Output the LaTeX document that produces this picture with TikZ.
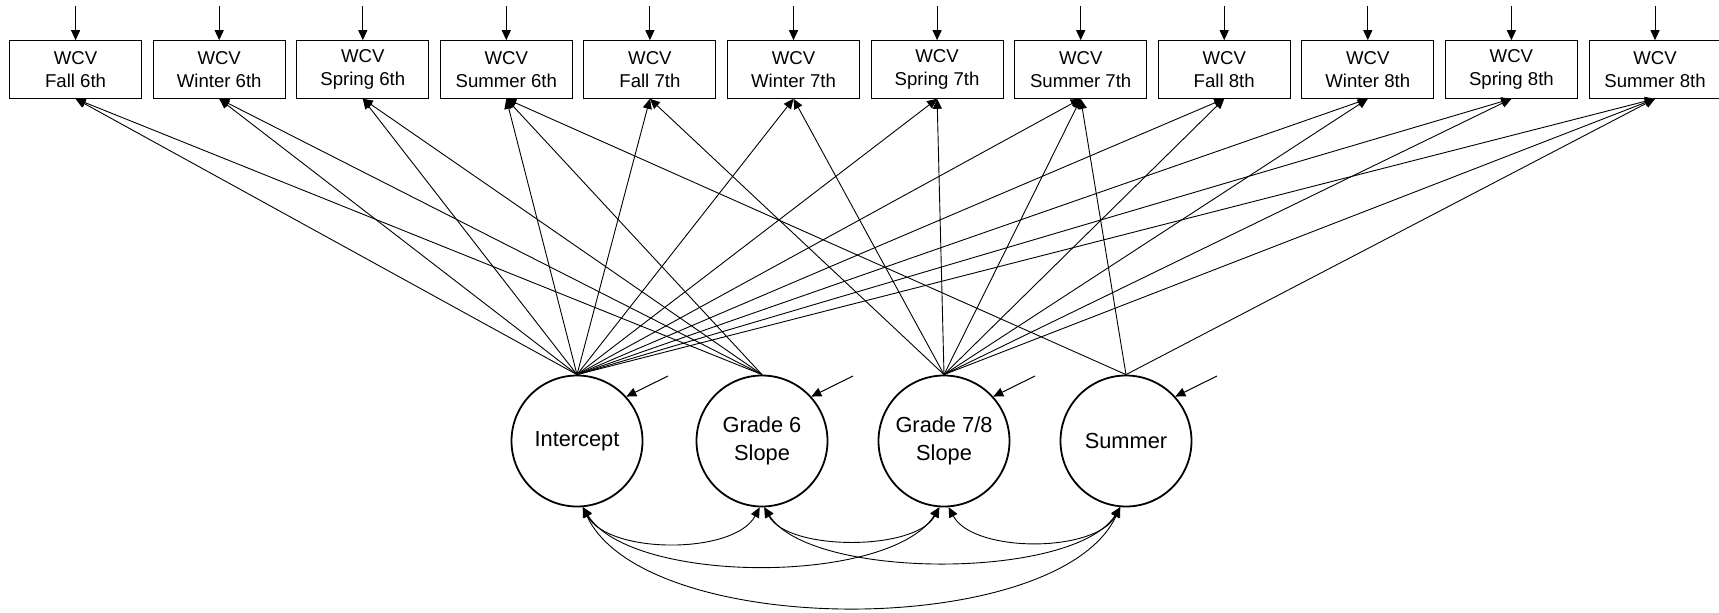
\documentclass[tikz,border=0pt]{standalone}
\usepackage{fontspec}
\setmainfont{Liberation Sans}
\usetikzlibrary{arrows.meta,calc}
\begin{document}
\begin{tikzpicture}[x=1pt,y=1pt,
  obs/.style={draw, line width=1pt, rectangle, minimum width=132pt, minimum height=57.6pt, inner sep=0pt, align=center, font=\fontsize{18.6}{22.5}\selectfont},
  lat/.style={draw, line width=1.8pt, circle, minimum size=131pt, inner sep=0pt, align=center, font=\fontsize{21.8}{28}\selectfont},
  tip/.style={-{Triangle[length=10pt,width=9pt]}},
  load/.style={tip, line width=0.9pt},
  res/.style={tip, line width=1pt},
  cov/.style={{Triangle[length=10pt,width=9pt]}-{Triangle[length=10pt,width=9pt]}, line width=0.9pt}]
\useasboundingbox (0,0) rectangle (1719,-613);
% observed indicators
\node[obs] (b1)  at (75.6,-69.5)   {WCV\\Fall 6th};
\node[obs] (b2)  at (219.2,-69.5)  {WCV\\Winter 6th};
\node[obs] (b3)  at (362.8,-69.5)  {WCV\\Spring 6th};
\node[obs] (b4)  at (506.3,-69.5)  {WCV\\Summer 6th};
\node[obs] (b5)  at (649.9,-69.5)  {WCV\\Fall 7th};
\node[obs] (b6)  at (793.5,-69.5)  {WCV\\Winter 7th};
\node[obs] (b7)  at (937.1,-69.5)  {WCV\\Spring 7th};
\node[obs] (b8)  at (1080.7,-69.5) {WCV\\Summer 7th};
\node[obs] (b9)  at (1224.2,-69.5) {WCV\\Fall 8th};
\node[obs] (b10) at (1367.8,-69.5) {WCV\\Winter 8th};
\node[obs] (b11) at (1511.4,-69.5) {WCV\\Spring 8th};
\node[obs] (b12) at (1655.0,-69.5) {WCV\\Summer 8th};
% residual arrows on indicators
\foreach \k in {1,...,12}
  \draw[res] ([yshift=34pt]b\k.north) -- (b\k.north);
% latent factors
\node[lat] (int) at (577,-441)  {Intercept};
\node[lat] (g6)  at (762,-441)  {Grade 6\\Slope};
\node[lat] (g78) at (944,-441)  {Grade 7/8\\Slope};
\node[lat] (sum) at (1126,-441) {Summer};
% loadings
\foreach \k in {1,...,12}
  \draw[load] (int.north) -- (b\k.south);
\foreach \k in {1,...,4}
  \draw[load] (g6.north) -- (b\k.south);
\foreach \k in {5,...,12}
  \draw[load] (g78.north) -- (b\k.south);
\foreach \k in {4,8,12}
  \draw[load] (sum.north) -- (b\k.south);
% latent residuals
\foreach \n in {int,g6,g78,sum}
  \draw[res] ([shift={(91,65)}]\n.center) -- (\n.42);
% covariances
\draw[cov] (int.-85) to[out=-62,in=-118,looseness=0.78] (g6.-92);
\draw[cov] (g6.-88) to[out=-62,in=-118,looseness=0.73] (g78.-94);
\draw[cov] (g78.-86) to[out=-62,in=-118,looseness=0.78] (sum.-95);
\draw[cov] (int.-85) to[out=-58,in=-122,looseness=0.66] (g78.-94);
\draw[cov] (g6.-88) to[out=-58,in=-122,looseness=0.62] (sum.-95);
\draw[cov] (int.-85) to[out=-65,in=-115,looseness=0.70] (sum.-95);
\end{tikzpicture}
\end{document}
